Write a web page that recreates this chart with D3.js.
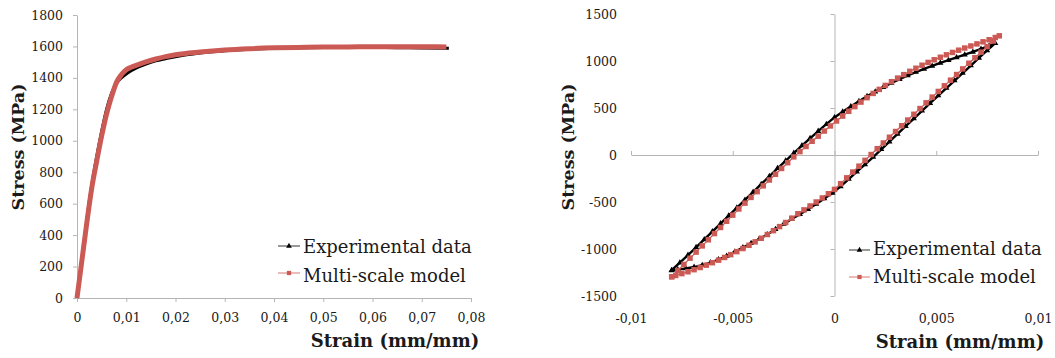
<!DOCTYPE html>
<html>
<head>
<meta charset="utf-8">
<script src="https://cdn.jsdelivr.net/npm/d3@7"></script>
<style>
  html, body { margin: 0; padding: 0; background: #fff; }
  svg { display: block; }
  text { font-family: "DejaVu Serif", serif; fill: #1a1a1a; }
</style>
</head>
<body>
<svg id="chart" width="1055" height="358"></svg>
<script>
// ---------- Data: monotonic tensile test (left) ----------
const tensileStrainExp = [0,0.001,0.002,0.003,0.004,0.005,0.006,0.007,0.008,0.009,0.010,0.011,0.012,0.014,0.016,0.018,0.020,0.025,0.030,0.035,0.040,0.045,0.050,0.055,0.060,0.065,0.070,0.0755];
const tensileStressExp = [0,250,500,720,900,1060,1200,1300,1365,1400,1425,1445,1462,1488,1508,1522,1535,1558,1572,1582,1588,1592,1594,1595,1594,1592,1590,1588];
const tensileStrainModel = [0,0.001,0.002,0.003,0.004,0.005,0.006,0.007,0.008,0.009,0.010,0.011,0.012,0.014,0.016,0.018,0.020,0.025,0.030,0.035,0.040,0.045,0.050,0.055,0.060,0.065,0.070,0.075];
const tensileStressModel = [0,240,480,700,870,1030,1170,1280,1370,1420,1452,1468,1480,1502,1520,1535,1547,1565,1578,1586,1591,1594,1596,1597,1598,1598,1598,1597];

// ---------- Data: cyclic loop (right) ----------
const cyclicExpStrain = [
  -0.0080,-0.0076,-0.0072,-0.0068,-0.0064,-0.0060,-0.0056,-0.0052,-0.0048,-0.0044,-0.0040,-0.0036,-0.0032,-0.0028,-0.0024,-0.0020,-0.0016,-0.0012,-0.0008,-0.0004,0.0000,0.0004,0.0008,0.0012,0.0016,0.0020,0.0024,0.0028,0.0032,0.0036,0.0040,0.0044,0.0048,0.0052,0.0056,0.0060,0.0064,0.0068,0.0072,0.0076,0.0079,
  0.0075,0.0071,0.0067,0.0063,0.0059,0.0055,0.0051,0.0047,0.0043,0.0039,0.0035,0.0031,0.0027,0.0023,0.0019,0.0015,0.0011,0.0007,0.0003,-0.0001,-0.0005,-0.0009,-0.0013,-0.0017,-0.0021,-0.0025,-0.0029,-0.0033,-0.0037,-0.0041,-0.0045,-0.0049,-0.0053,-0.0057,-0.0061,-0.0065,-0.0069,-0.0073,-0.0077,-0.0080
];
const cyclicExpStress = [
  -1226,-1146,-1064,-982,-898,-814,-730,-646,-562,-478,-394,-310,-226,-142,-62,20,100,178,254,328,400,460,517,572,624,674,722,766,807,846,882,916,948,979,1009,1038,1067,1096,1128,1162,1190,
  1112,1032,952,872,792,712,632,551,470,388,306,224,142,60,-22,-100,-178,-256,-334,-405,-463,-520,-578,-630,-680,-735,-790,-845,-893,-940,-985,-1030,-1075,-1112,-1145,-1172,-1192,-1207,-1219,-1228
];
const cyclicModelStrain = [
  -0.0080,-0.0077,-0.0074,-0.0071,-0.0068,-0.0065,-0.0062,-0.0059,-0.0056,-0.0053,-0.0050,-0.0047,-0.0044,-0.0041,-0.0038,-0.0035,-0.0032,-0.0029,-0.0026,-0.0023,-0.0020,-0.0017,-0.0014,-0.0011,-0.0008,-0.0005,-0.0002,0.0001,0.0004,0.0007,0.0010,0.0013,0.0016,0.0019,0.0022,0.0025,0.0028,0.0031,0.0034,0.0037,0.0040,0.0043,0.0046,0.0049,0.0052,0.0055,0.0058,0.0061,0.0064,0.0067,0.0070,0.0073,0.0076,0.0079,0.0081,
  0.0078,0.0075,0.0072,0.0069,0.0066,0.0063,0.0060,0.0057,0.0054,0.0051,0.0048,0.0045,0.0042,0.0039,0.0036,0.0033,0.0030,0.0027,0.0024,0.0021,0.0018,0.0015,0.0012,0.0009,0.0006,0.0003,0.0000,-0.0003,-0.0006,-0.0009,-0.0012,-0.0015,-0.0018,-0.0021,-0.0024,-0.0027,-0.0030,-0.0033,-0.0036,-0.0039,-0.0042,-0.0045,-0.0048,-0.0051,-0.0054,-0.0057,-0.0060,-0.0063,-0.0066,-0.0069,-0.0072,-0.0075,-0.0078,-0.0080
];
const cyclicModelStress = [
  -1295,-1229,-1164,-1098,-1033,-967,-902,-836,-771,-705,-640,-574,-512,-451,-390,-328,-266,-205,-143,-82,-20,36,91,146,200,255,309,362,414,465,515,563,610,655,698,740,780,818,855,890,923,955,985,1013,1040,1066,1091,1115,1138,1160,1182,1204,1226,1250,1268,
  1212,1153,1094,1035,976,916,856,796,736,676,616,555,494,433,372,311,250,189,128,67,5,-57,-119,-181,-243,-305,-366,-412,-457,-500,-542,-584,-625,-672,-718,-762,-805,-846,-886,-924,-960,-995,-1028,-1060,-1090,-1119,-1146,-1172,-1197,-1220,-1242,-1262,-1282,-1295
];

// ---------- Ticks and labels ----------
const leftStrainTicks = [0,0.01,0.02,0.03,0.04,0.05,0.06,0.07,0.08];
const leftStressTicks = [0,200,400,600,800,1000,1200,1400,1600,1800];
const rightStrainTicks = [-0.01,-0.005,0,0.005,0.01];
const rightStressTicks = [-1500,-1000,-500,0,500,1000,1500];
const seriesNames = ["Experimental data", "Multi-scale model"];
const xTitle = "Strain (mm/mm)";
const yTitle = "Stress (MPa)";

const AXIS = "#b5b5b5";
const RED = "#cb5a55";
const BLACK = "#000";
const fmt = d => d === 0 ? "0" : String(+d.toFixed(4)).replace(".", ",");

const svg = d3.select("#chart");

function styleAxis(g) {
  g.selectAll("path.domain").attr("stroke", AXIS).attr("stroke-width", 1);
  g.selectAll(".tick line").attr("stroke", AXIS).attr("stroke-width", 1);
  g.selectAll(".tick text").attr("font-family", "DejaVu Serif").attr("font-size", 12.5).attr("fill", "#1a1a1a");
}

// ================= LEFT CHART =================
const xL = d3.scaleLinear().domain([0, 0.08]).range([77, 471]);
const yL = d3.scaleLinear().domain([0, 1800]).range([298, 15]);

const gL = svg.append("g");
gL.append("g").attr("transform", `translate(0,${yL(0)})`)
  .call(d3.axisBottom(xL).tickValues(leftStrainTicks).tickFormat(fmt).tickSize(4).tickSizeOuter(0).tickPadding(11))
  .call(styleAxis);
gL.append("g").attr("transform", `translate(${xL(0)},0)`)
  .call(d3.axisLeft(yL).tickValues(leftStressTicks).tickFormat(d => d).tickSize(4).tickSizeOuter(0).tickPadding(10))
  .call(styleAxis);

const lineL = d3.line().curve(d3.curveMonotoneX).x(d => xL(d[0])).y(d => yL(d[1]));
gL.append("path").datum(d3.zip(tensileStrainExp, tensileStressExp))
  .attr("d", lineL).attr("fill", "none").attr("stroke", BLACK).attr("stroke-width", 3).attr("stroke-linejoin", "round");
gL.append("path").datum(d3.zip(tensileStrainModel, tensileStressModel))
  .attr("d", lineL).attr("fill", "none").attr("stroke", RED).attr("stroke-width", 5).attr("stroke-linejoin", "round").attr("stroke-linecap", "butt");

// ================= RIGHT CHART =================
const xR = d3.scaleLinear().domain([-0.01, 0.01]).range([631, 1038]);
const yR = d3.scaleLinear().domain([-1500, 1500]).range([296, 14]);

const gR = svg.append("g");
gR.append("g").attr("transform", `translate(0,${yR(0)})`)
  .call(d3.axisTop(xR).tickValues(rightStrainTicks).tickFormat("").tickSize(4).tickSizeOuter(0))
  .call(styleAxis);
gR.append("g").attr("transform", `translate(${xR(0)},0)`)
  .call(d3.axisLeft(yR).tickValues(rightStressTicks).tickFormat("").tickSize(4).tickSizeOuter(0))
  .call(styleAxis);
gR.append("g").attr("transform", `translate(0,${yR(-1500)})`)
  .call(d3.axisBottom(xR).tickValues(rightStrainTicks).tickFormat(fmt).tickSize(0).tickPadding(18))
  .call(styleAxis).call(g => g.select("path.domain").remove());
gR.append("g").attr("transform", `translate(${xR(-0.01)},0)`)
  .call(d3.axisLeft(yR).tickValues(rightStressTicks).tickFormat(d => d).tickSize(0).tickPadding(14))
  .call(styleAxis).call(g => g.select("path.domain").remove());

const lineR = d3.line().x(d => xR(d[0])).y(d => yR(d[1]));
const expPts = d3.zip(cyclicExpStrain, cyclicExpStress);
const modPts = d3.zip(cyclicModelStrain, cyclicModelStress);
const tri = d3.symbol().type(d3.symbolTriangle).size(16);
const sq = d3.symbol().type(d3.symbolSquare).size(30);

gR.append("path").datum(expPts).attr("d", lineR).attr("fill", "none").attr("stroke", BLACK).attr("stroke-width", 2.4);
gR.selectAll("path.tri").data(expPts).join("path").attr("class", "tri")
  .attr("d", tri).attr("transform", d => `translate(${xR(d[0])},${yR(d[1])})`).attr("fill", BLACK);
gR.append("path").datum(modPts).attr("d", lineR).attr("fill", "none").attr("stroke", RED).attr("stroke-width", 1.2);
gR.selectAll("path.sq").data(modPts).join("path").attr("class", "sq")
  .attr("d", sq).attr("transform", d => `translate(${xR(d[0])},${yR(d[1])})`).attr("fill", RED);

// ================= TITLES =================
function titles(cx, cyTitleX, yx, yy) {
  svg.append("text").attr("x", cx).attr("y", cyTitleX).attr("text-anchor", "middle")
    .attr("font-size", 18).attr("font-weight", "bold").text(xTitle);
  svg.append("text").attr("transform", `translate(${yx},${yy}) rotate(-90)`).attr("text-anchor", "middle")
    .attr("font-size", 17.5).attr("font-weight", "bold").text(yTitle);
}
titles(395, 347, 24, 147);
titles(960, 348, 574, 147);

// ================= LEGENDS =================
function legend(x0, x1, yRows, baseRows) {
  const colors = [BLACK, RED];
  const syms = [d3.symbol().type(d3.symbolTriangle).size(14), d3.symbol().type(d3.symbolSquare).size(18)];
  seriesNames.forEach((name, i) => {
    svg.append("line").attr("x1", x0).attr("x2", x1).attr("y1", yRows[i]).attr("y2", yRows[i])
      .attr("stroke", i === 0 ? "#555" : "#e08c88").attr("stroke-width", 1.2);
    svg.append("path").attr("d", syms[i]).attr("fill", colors[i])
      .attr("transform", `translate(${(x0 + x1) / 2},${yRows[i]})`);
    svg.append("text").attr("x", x1 + 3).attr("y", baseRows[i]).attr("font-size", 18).text(name);
  });
}
legend(278, 300, [246, 273], [253, 282]);
legend(849, 870, [250, 277], [255, 283]);
</script>
</body>
</html>
